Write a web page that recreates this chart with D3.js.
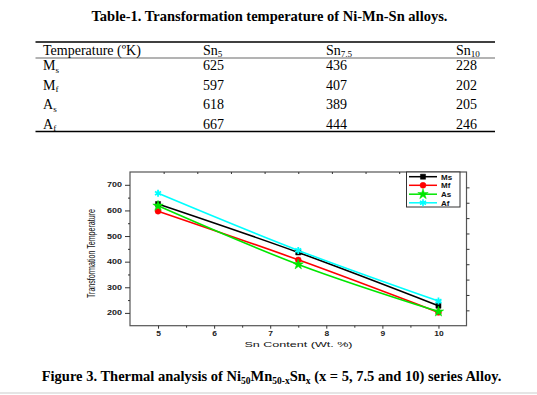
<!DOCTYPE html>
<html><head><meta charset="utf-8">
<script src="https://cdn.jsdelivr.net/npm/d3@7/dist/d3.min.js"></script>
<style>
html,body{margin:0;padding:0;background:#fff;}
svg{display:block;}
</style></head>
<body>
<svg id="c" width="537" height="395"></svg>
<script>
// ---- data ----
const snContent = [5, 7.5, 10];
const colLabels = [["Sn","5"],["Sn","7.5"],["Sn","10"]];
const seriesNames = ["Ms","Mf","As","Af"];
const rowLabels = [["M","s"],["M","f"],["A","s"],["A","f"]];
const Ms = [625, 436, 228];
const Mf = [597, 407, 202];
const As = [618, 389, 205];
const Af = [667, 444, 246];
const yTicks = [200, 300, 400, 500, 600, 700];
const xTicks = [5, 6, 7, 8, 9, 10];

const seriesVals = [Ms, Mf, As, Af];
const colors = ["#000000", "#ff0000", "#00e600", "#00ffff"];
const symbols = [d3.symbolSquare, d3.symbolCircle, d3.symbolStar, d3.symbolAsterisk];

const svg = d3.select("#c");
const serif = "'Liberation Serif','Times New Roman',serif";
const sans = "'Liberation Sans',Arial,sans-serif";

// ---- table ----
svg.append("text").attr("x", 269.5).attr("y", 20.5).attr("text-anchor","middle")
  .attr("font-family", serif).attr("font-weight","bold").attr("font-size", 14.5)
  .text("Table-1. Transformation temperature of Ni-Mn-Sn alloys.");

const tblX0 = 35.5, tblX1 = 495;
svg.append("line").attr("x1",tblX0).attr("x2",tblX1).attr("y1",42).attr("y2",42).attr("stroke","#000").attr("stroke-width",1.3);
svg.append("line").attr("x1",tblX0).attr("x2",tblX1).attr("y1",58).attr("y2",58).attr("stroke","#000").attr("stroke-width",0.6);
svg.append("line").attr("x1",tblX0).attr("x2",tblX1).attr("y1",131.5).attr("y2",131.5).attr("stroke","#000").attr("stroke-width",1.3);

const colX = [43, 203, 326, 456];
const rowY = [54.5, 70, 89.5, 109, 128.5];
const tfs = 14;
function sub(sel, base, s, x, y, fs) {
  const t = sel.append("text").attr("x", x).attr("y", y).attr("font-family", serif).attr("font-size", fs);
  t.append("tspan").text(base);
  t.append("tspan").attr("font-size", fs*0.65).attr("dy", 2.5).text(s);
  return t;
}
svg.append("text").attr("x", colX[0]).attr("y", rowY[0]).attr("font-family", serif).attr("font-size", tfs)
  .text("Temperature (ºK)");
colLabels.forEach((c,i) => sub(svg, c[0], c[1], colX[i+1], rowY[0], tfs));
rowLabels.forEach((r,i) => {
  sub(svg, r[0], r[1], colX[0], rowY[i+1], tfs);
  seriesVals[i].forEach((v,j) => {
    svg.append("text").attr("x", colX[j+1]).attr("y", rowY[i+1]).attr("font-family", serif).attr("font-size", tfs).text(v);
  });
});

// ---- chart ----
const L = 130, R = 466.5, T = 172, B = 325.7;
const x = d3.scaleLinear().domain([4.5, 10.5]).range([L, R]);
const y = d3.scaleLinear().domain([150, 750]).range([B, T]);
const axisCol = "#333";

const g = svg.append("g");
// frame
g.append("rect").attr("x", L).attr("y", T).attr("width", R-L).attr("height", B-T)
  .attr("fill","none").attr("stroke", "#555").attr("stroke-width", 1.2);

// bottom axis
const xAx = g.append("g").attr("transform", `translate(0,${B})`)
  .call(d3.axisBottom(x).tickValues(xTicks).tickSize(3).tickPadding(3).tickFormat(d3.format("d")));
xAx.select(".domain").remove();
xAx.selectAll("text").attr("font-family", sans).attr("font-weight","bold").attr("font-size", 6.5).attr("fill","#222")
  .attr("transform", "scale(1.3,1)");
xAx.selectAll("line").attr("stroke", axisCol);
// minor bottom
g.append("g").attr("transform", `translate(0,${B})`)
  .call(d3.axisBottom(x).tickValues(d3.range(5.5, 10.5, 1)).tickSize(2).tickFormat(""))
  .call(s => s.select(".domain").remove()).selectAll("line").attr("stroke", axisCol);

// left axis
const yAx = g.append("g").attr("transform", `translate(${L},0)`)
  .call(d3.axisLeft(y).tickValues(yTicks).tickSize(5).tickPadding(3));
yAx.select(".domain").remove();
yAx.selectAll("line").attr("stroke", axisCol);
yAx.selectAll("text").attr("font-family", sans).attr("font-weight","bold").attr("font-size", 6.5).attr("fill","#222")
  .attr("x", -8).attr("textLength", 15).attr("lengthAdjust","spacingAndGlyphs").attr("text-anchor","end");
g.append("g").attr("transform", `translate(${L},0)`)
  .call(d3.axisLeft(y).tickValues(d3.range(250, 750, 100)).tickSize(2).tickFormat(""))
  .call(s => s.select(".domain").remove()).selectAll("line").attr("stroke", axisCol);

// top ticks (inward)
g.append("g").attr("transform", `translate(0,${T})`)
  .call(d3.axisTop(x).tickValues(d3.range(5.1, 10.4, 0.6)).tickSize(-2).tickFormat(""))
  .call(s => s.select(".domain").remove()).selectAll("line").attr("stroke", axisCol);
// right ticks (outward)
g.append("g").attr("transform", `translate(${R},0)`)
  .call(d3.axisRight(y).tickValues(d3.range(210, 700, 60)).tickSize(3).tickFormat(""))
  .call(s => s.select(".domain").remove()).selectAll("line").attr("stroke", axisCol);

// axis titles
g.append("text").attr("transform", `translate(94.5,253.5) rotate(-90)`).attr("text-anchor","middle")
  .attr("font-family", sans).attr("font-size", 10.5).attr("fill","#111")
  .attr("textLength", 89).attr("lengthAdjust","spacingAndGlyphs")
  .text("Transformation Temperature");
g.append("text").attr("x", 298.5).attr("y", 346.5).attr("text-anchor","middle")
  .attr("font-family", sans).attr("font-size", 8).attr("fill","#111")
  .attr("textLength", 108).attr("lengthAdjust","spacingAndGlyphs")
  .text("Sn Content (Wt. %)");

// series
const line = d3.line().x((d,i) => x(snContent[i])).y(d => y(d)).curve(d3.curveNatural);
const symSize = [26, 28, 34, 34];
seriesVals.forEach((vals, k) => {
  g.append("path").datum(vals).attr("d", line).attr("fill","none")
    .attr("stroke", colors[k]).attr("stroke-width", 1.6);
});
seriesVals.forEach((vals, k) => {
  g.selectAll(null).data(vals).enter().append("path")
    .attr("transform", (d,i) => `translate(${x(snContent[i])},${y(d)})`)
    .attr("d", d3.symbol().type(symbols[k]).size(symSize[k]))
    .attr("fill", k === 3 ? "none" : colors[k])
    .attr("stroke", colors[k]).attr("stroke-width", k === 3 ? 1.8 : 0.5);
});

// legend
const lg = g.append("g");
lg.append("rect").attr("x", 406.5).attr("y", 172).attr("width", 53.5).attr("height", 35)
  .attr("fill","#fff").attr("stroke","#333").attr("stroke-width", 1);
const legY = [176.7, 185.3, 194.2, 202.8];
seriesNames.forEach((n, k) => {
  lg.append("line").attr("x1", 409).attr("x2", 437).attr("y1", legY[k]).attr("y2", legY[k])
    .attr("stroke", colors[k]).attr("stroke-width", 1.5);
  lg.append("path").attr("transform", `translate(423,${legY[k]})`)
    .attr("d", d3.symbol().type(symbols[k]).size(symSize[k]))
    .attr("fill", k === 3 ? "none" : colors[k]).attr("stroke", colors[k]).attr("stroke-width", k===3?1.6:0.5);
  lg.append("text").attr("x", 441).attr("y", legY[k] + 2.8)
    .attr("font-family", sans).attr("font-weight","bold").attr("font-size", 8).attr("fill","#111").text(n);
});

// caption
const cap = svg.append("text").attr("x", 271.5).attr("y", 381).attr("text-anchor","middle")
  .attr("font-family", serif).attr("font-weight","bold").attr("font-size", 14.5);
cap.append("tspan").text("Figure 3. Thermal analysis of Ni");
cap.append("tspan").attr("font-size", 9.5).attr("dy", 2.5).text("50");
cap.append("tspan").attr("dy", -2.5).text("Mn");
cap.append("tspan").attr("font-size", 9.5).attr("dy", 2.5).text("50-x");
cap.append("tspan").attr("dy", -2.5).text("Sn");
cap.append("tspan").attr("font-size", 9.5).attr("dy", 2.5).text("x");
cap.append("tspan").attr("dy", -2.5).text(" (x = 5, 7.5 and 10) series Alloy.");

svg.append("line").attr("x1", 0).attr("x2", 537).attr("y1", 393).attr("y2", 393).attr("stroke", "#ddd").attr("stroke-width", 1.5);
</script>
</body></html>
